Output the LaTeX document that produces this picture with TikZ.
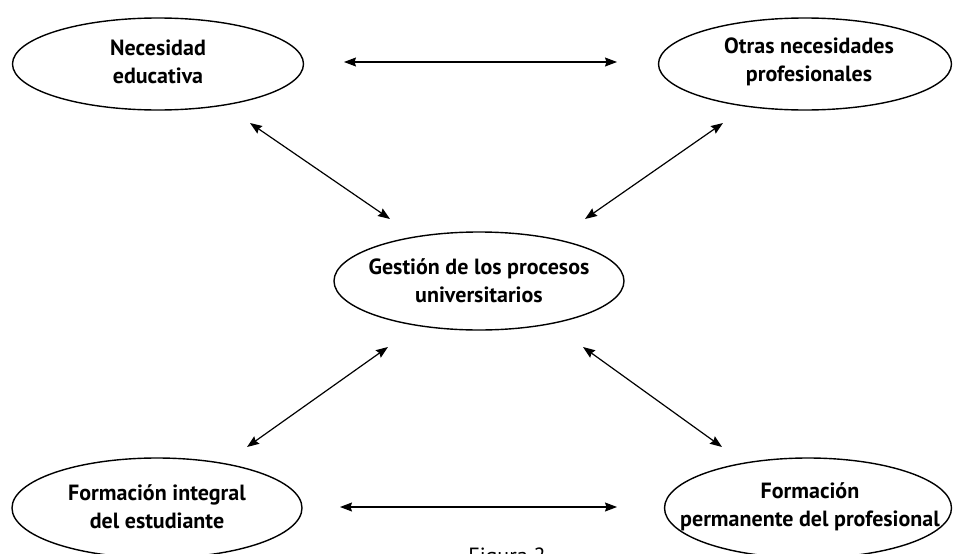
\documentclass[tikz,border=0pt]{standalone}
\usepackage{fontspec}
\setmainfont{PT Sans}
\usetikzlibrary{arrows.meta}
\begin{document}
\begin{tikzpicture}[x=1pt,y=-1pt,
  label/.style={inner sep=0pt,align=center,font=\fontsize{22}{28}\selectfont\bfseries},
  rim/.style={line width=1.4pt},
  link/.style={line width=1.2pt,{Stealth[length=12pt,width=9pt,inset=1.5pt]}-{Stealth[length=12pt,width=9pt,inset=1.5pt]}}]
\useasboundingbox (0,0) rectangle (956,554);
\node[label] (A) at (158,62) {Necesidad\\educativa};
\node[label] (B) at (809,62) {Otras necesidades\\profesionales};
\node[label] (C) at (479,281) {Gestión de los procesos\\universitarios};
\node[label] (D) at (157,507) {Formación integral\\del estudiante};
\node[label] (E) at (810,507) {Formación\\permanente del profesional};
\draw[rim] (158,64) ellipse [x radius=145.5, y radius=46];
\draw[rim] (805,64) ellipse [x radius=146.5, y radius=46];
\draw[rim] (479,281) ellipse [x radius=145, y radius=49];
\draw[rim] (157,508) ellipse [x radius=145, y radius=50];
\draw[rim] (808,508) ellipse [x radius=143.5, y radius=50];
\node[anchor=base,font=\fontsize{22}{26}\selectfont] (cap) at (507,563) {Figura 2};
\coordinate (ab1) at (344,62); \coordinate (ab2) at (617,62);
\coordinate (de1) at (340,507); \coordinate (de2) at (617,507);
\coordinate (ac1) at (250,123); \coordinate (ac2) at (390,219);
\coordinate (bc1) at (723,123); \coordinate (bc2) at (585,219);
\coordinate (cd1) at (388,347); \coordinate (cd2) at (247,447);
\coordinate (ce1) at (583,347); \coordinate (ce2) at (722,447);
\draw[link] (ab1) -- (ab2);
\draw[link] (de1) -- (de2);
\draw[link] (ac1) -- (ac2);
\draw[link] (bc1) -- (bc2);
\draw[link] (cd1) -- (cd2);
\draw[link] (ce1) -- (ce2);
\end{tikzpicture}
\end{document}
